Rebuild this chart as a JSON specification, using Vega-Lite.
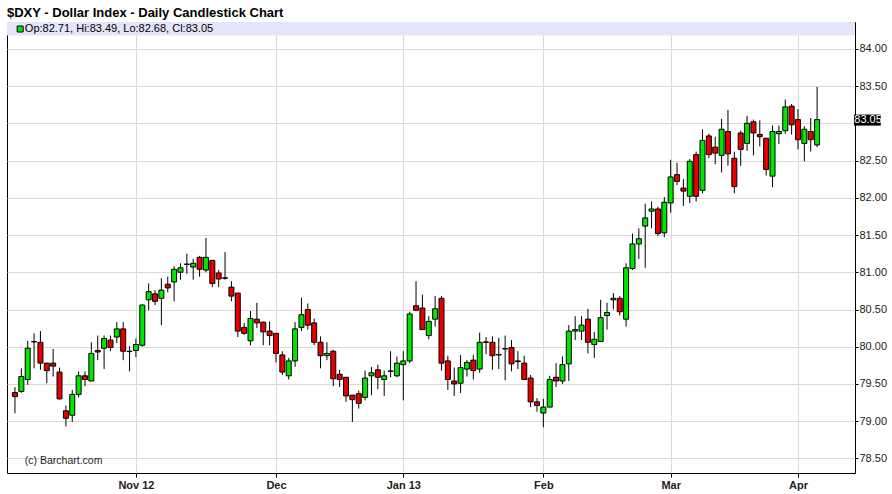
{
  "$schema": "https://vega.github.io/schema/vega-lite/v6.json",
  "width": 848,
  "height": 451,
  "autosize": "none",
  "padding": {"left": 7, "top": 22, "right": 37, "bottom": 21},
  "background": "#ffffff",
  "config": {
    "font": "Liberation Sans",
    "view": {"stroke": "#000000", "strokeWidth": 1}
  },
  "title": {
    "text": "$DXY - Dollar Index - Daily Candlestick Chart",
    "anchor": "start",
    "frame": "group",
    "fontSize": 13,
    "fontWeight": "bold",
    "color": "#000000",
    "offset": 5,
    "dy": 3
  },
  "datasets": {
    "candles": [
      {"day":0,"open":79.385,"high":79.457,"low":79.107,"close":79.331},
      {"day":1,"open":79.40,"high":79.71,"low":79.38,"close":79.60},
      {"day":2,"open":79.56,"high":80.08,"low":79.49,"close":79.98},
      {"day":3,"open":80.07,"high":80.18,"low":79.71,"close":80.065},
      {"day":4,"open":80.06,"high":80.21,"low":79.69,"close":79.78},
      {"day":5,"open":79.78,"high":79.78,"low":79.51,"close":79.68},
      {"day":6,"open":79.78,"high":79.97,"low":79.60,"close":79.74},
      {"day":7,"open":79.66,"high":79.72,"low":79.29,"close":79.30},
      {"day":8,"open":79.14,"high":79.21,"low":78.93,"close":79.04},
      {"day":9,"open":79.08,"high":79.42,"low":78.99,"close":79.36},
      {"day":10,"open":79.36,"high":79.67,"low":79.32,"close":79.61},
      {"day":11,"open":79.61,"high":79.67,"low":79.47,"close":79.56},
      {"day":12,"open":79.54,"high":80.06,"low":79.54,"close":79.91},
      {"day":13,"open":79.95,"high":80.15,"low":79.82,"close":79.93},
      {"day":14,"open":79.98,"high":80.15,"low":79.70,"close":80.11},
      {"day":15,"open":80.09,"high":80.15,"low":79.94,"close":79.99},
      {"day":16,"open":80.13,"high":80.33,"low":80.05,"close":80.24},
      {"day":17,"open":80.24,"high":80.33,"low":79.82,"close":79.94},
      {"day":18,"open":79.94,"high":80.01,"low":79.67,"close":79.935},
      {"day":19,"open":79.95,"high":80.11,"low":79.86,"close":80.03},
      {"day":20,"open":80.02,"high":80.57,"low":80.00,"close":80.56},
      {"day":21,"open":80.63,"high":80.85,"low":80.49,"close":80.74},
      {"day":22,"open":80.71,"high":80.76,"low":80.56,"close":80.61},
      {"day":23,"open":80.65,"high":80.92,"low":80.29,"close":80.76},
      {"day":24,"open":80.84,"high":80.94,"low":80.73,"close":80.79},
      {"day":25,"open":80.87,"high":81.08,"low":80.61,"close":81.04},
      {"day":26,"open":81.00,"high":81.12,"low":80.90,"close":81.06},
      {"day":27,"open":81.11,"high":81.25,"low":80.98,"close":81.105},
      {"day":28,"open":81.07,"high":81.18,"low":80.90,"close":81.12},
      {"day":29,"open":81.20,"high":81.22,"low":80.94,"close":81.04},
      {"day":30,"open":81.03,"high":81.46,"low":81.00,"close":81.20},
      {"day":31,"open":81.16,"high":81.16,"low":80.80,"close":80.85},
      {"day":32,"open":80.99,"high":81.03,"low":80.80,"close":80.91},
      {"day":33,"open":80.925,"high":81.27,"low":80.90,"close":80.92},
      {"day":34,"open":80.80,"high":80.88,"low":80.61,"close":80.68},
      {"day":35,"open":80.72,"high":80.72,"low":80.13,"close":80.21},
      {"day":36,"open":80.26,"high":80.32,"low":80.16,"close":80.18},
      {"day":37,"open":80.08,"high":80.48,"low":80.02,"close":80.38},
      {"day":38,"open":80.37,"high":80.59,"low":80.25,"close":80.32},
      {"day":39,"open":80.33,"high":80.34,"low":80.02,"close":80.20},
      {"day":40,"open":80.21,"high":80.34,"low":80.02,"close":80.15},
      {"day":41,"open":80.18,"high":80.18,"low":79.79,"close":79.91},
      {"day":42,"open":79.89,"high":79.94,"low":79.62,"close":79.66},
      {"day":43,"open":79.61,"high":79.85,"low":79.56,"close":79.81},
      {"day":44,"open":79.81,"high":80.33,"low":79.73,"close":80.24},
      {"day":45,"open":80.26,"high":80.66,"low":80.21,"close":80.43},
      {"day":46,"open":80.50,"high":80.58,"low":80.23,"close":80.29},
      {"day":47,"open":80.32,"high":80.38,"low":80.02,"close":80.06},
      {"day":48,"open":80.06,"high":80.14,"low":79.71,"close":79.88},
      {"day":49,"open":79.88,"high":80.06,"low":79.82,"close":79.91},
      {"day":50,"open":79.94,"high":79.96,"low":79.47,"close":79.57},
      {"day":51,"open":79.63,"high":79.69,"low":79.46,"close":79.56},
      {"day":52,"open":79.59,"high":79.59,"low":79.26,"close":79.34},
      {"day":53,"open":79.35,"high":79.35,"low":78.99,"close":79.29},
      {"day":54,"open":79.37,"high":79.41,"low":79.17,"close":79.24},
      {"day":55,"open":79.32,"high":79.68,"low":79.28,"close":79.58},
      {"day":56,"open":79.61,"high":79.73,"low":79.35,"close":79.65},
      {"day":57,"open":79.69,"high":79.76,"low":79.43,"close":79.59},
      {"day":58,"open":79.56,"high":79.68,"low":79.34,"close":79.61},
      {"day":59,"open":79.675,"high":79.94,"low":79.59,"close":79.67},
      {"day":60,"open":79.61,"high":79.87,"low":79.59,"close":79.78},
      {"day":61,"open":79.76,"high":79.94,"low":79.28,"close":79.81},
      {"day":62,"open":79.81,"high":80.47,"low":79.78,"close":80.44},
      {"day":63,"open":80.55,"high":80.88,"low":80.49,"close":80.49},
      {"day":64,"open":80.52,"high":80.70,"low":80.23,"close":80.23},
      {"day":65,"open":80.15,"high":80.41,"low":80.10,"close":80.34},
      {"day":66,"open":80.37,"high":80.68,"low":80.27,"close":80.51},
      {"day":67,"open":80.65,"high":80.68,"low":79.68,"close":79.78},
      {"day":68,"open":79.81,"high":79.88,"low":79.42,"close":79.56},
      {"day":69,"open":79.54,"high":79.72,"low":79.34,"close":79.50},
      {"day":70,"open":79.51,"high":79.89,"low":79.38,"close":79.72},
      {"day":71,"open":79.70,"high":79.82,"low":79.60,"close":79.79},
      {"day":72,"open":79.82,"high":79.89,"low":79.56,"close":79.68},
      {"day":73,"open":79.70,"high":80.19,"low":79.65,"close":80.06},
      {"day":74,"open":80.065,"high":80.13,"low":79.90,"close":80.06},
      {"day":75,"open":80.06,"high":80.14,"low":79.69,"close":79.88},
      {"day":76,"open":79.895,"high":80.12,"low":79.70,"close":79.89},
      {"day":77,"open":79.975,"high":80.15,"low":79.55,"close":79.97},
      {"day":78,"open":79.99,"high":80.09,"low":79.67,"close":79.77},
      {"day":79,"open":79.81,"high":79.94,"low":79.70,"close":79.80},
      {"day":80,"open":79.78,"high":79.88,"low":79.56,"close":79.56},
      {"day":81,"open":79.58,"high":79.62,"low":79.19,"close":79.26},
      {"day":82,"open":79.26,"high":79.31,"low":79.13,"close":79.21},
      {"day":83,"open":79.11,"high":79.30,"low":78.92,"close":79.19},
      {"day":84,"open":79.19,"high":79.61,"low":79.19,"close":79.56},
      {"day":85,"open":79.59,"high":79.78,"low":79.46,"close":79.54},
      {"day":86,"open":79.54,"high":79.87,"low":79.50,"close":79.76},
      {"day":87,"open":79.77,"high":80.29,"low":79.54,"close":80.21},
      {"day":88,"open":80.21,"high":80.41,"low":80.09,"close":80.23},
      {"day":89,"open":80.21,"high":80.41,"low":80.09,"close":80.29},
      {"day":90,"open":80.37,"high":80.51,"low":79.91,"close":80.06},
      {"day":91,"open":80.03,"high":80.20,"low":79.85,"close":80.10},
      {"day":92,"open":80.07,"high":80.63,"low":80.07,"close":80.39},
      {"day":93,"open":80.42,"high":80.59,"low":80.23,"close":80.46},
      {"day":94,"open":80.63,"high":80.72,"low":80.50,"close":80.65},
      {"day":95,"open":80.65,"high":80.68,"low":80.42,"close":80.47},
      {"day":96,"open":80.37,"high":81.12,"low":80.27,"close":81.06},
      {"day":97,"open":81.05,"high":81.52,"low":81.03,"close":81.38},
      {"day":98,"open":81.38,"high":81.59,"low":81.18,"close":81.45},
      {"day":99,"open":81.62,"high":81.92,"low":81.06,"close":81.73},
      {"day":100,"open":81.82,"high":81.95,"low":81.59,"close":81.85},
      {"day":101,"open":81.85,"high":81.88,"low":81.49,"close":81.52},
      {"day":102,"open":81.53,"high":82.01,"low":81.47,"close":81.94},
      {"day":103,"open":81.93,"high":82.51,"low":81.80,"close":82.28},
      {"day":104,"open":82.31,"high":82.47,"low":82.17,"close":82.22},
      {"day":105,"open":82.13,"high":82.25,"low":81.89,"close":82.09},
      {"day":106,"open":82.02,"high":82.52,"low":81.93,"close":82.49},
      {"day":107,"open":82.58,"high":82.62,"low":81.95,"close":82.02},
      {"day":108,"open":82.10,"high":82.92,"low":82.06,"close":82.77},
      {"day":109,"open":82.83,"high":82.86,"low":82.53,"close":82.58},
      {"day":110,"open":82.68,"high":82.82,"low":82.45,"close":82.60},
      {"day":111,"open":82.57,"high":83.06,"low":82.34,"close":82.92},
      {"day":112,"open":82.89,"high":83.18,"low":82.43,"close":82.59},
      {"day":113,"open":82.53,"high":82.62,"low":82.06,"close":82.15},
      {"day":114,"open":82.87,"high":82.90,"low":82.43,"close":82.65},
      {"day":115,"open":82.73,"high":83.10,"low":82.63,"close":83.00},
      {"day":116,"open":83.02,"high":83.05,"low":82.57,"close":82.87},
      {"day":117,"open":82.85,"high":83.04,"low":82.69,"close":82.82},
      {"day":118,"open":82.80,"high":82.80,"low":82.30,"close":82.38},
      {"day":119,"open":82.29,"high":82.97,"low":82.14,"close":82.89},
      {"day":120,"open":82.86,"high":82.97,"low":82.72,"close":82.89},
      {"day":121,"open":82.90,"high":83.32,"low":82.86,"close":83.22},
      {"day":122,"open":83.23,"high":83.26,"low":82.85,"close":82.98},
      {"day":123,"open":83.05,"high":83.19,"low":82.65,"close":82.78},
      {"day":124,"open":82.73,"high":82.96,"low":82.49,"close":82.92},
      {"day":125,"open":82.89,"high":83.07,"low":82.62,"close":82.78},
      {"day":126,"open":82.71,"high":83.49,"low":82.68,"close":83.05}
    ]
  },
  "layer": [
    {
      "data": {"name": "candles"},
      "mark": {"type": "rule", "color": "#000000", "strokeWidth": 1},
      "encoding": {
        "x": {
          "field": "day",
          "type": "quantitative",
          "scale": {"domain": [-0.466, 131.17], "nice": false, "zero": false},
          "axis": {
            "orient": "bottom",
            "title": null,
            "values": [19, 41, 61, 83, 103, 123],
            "labelExpr": "datum.value == 19 ? 'Nov 12' : datum.value == 41 ? 'Dec' : datum.value == 61 ? 'Jan 13' : datum.value == 83 ? 'Feb' : datum.value == 103 ? 'Mar' : 'Apr'",
            "grid": true,
            "gridColor": "#d9d9d9",
            "gridWidth": 1,
            "domain": false,
            "ticks": true,
            "tickColor": "#000000",
            "tickSize": 4,
            "labelFontSize": 11,
            "labelFontWeight": "bold",
            "labelColor": "#222222",
            "labelPadding": 2,
            "labelFlush": false
          }
        },
        "y": {
          "field": "low",
          "type": "quantitative",
          "scale": {"domain": [78.305, 84.36], "nice": false, "zero": false},
          "axis": {
            "orient": "right",
            "title": null,
            "values": [78.5, 79, 79.5, 80, 80.5, 81, 81.5, 82, 82.5, 83, 83.5, 84],
            "labelExpr": "datum.value == 83 ? '' : format(datum.value, '.2f')",
            "grid": true,
            "gridColor": "#d9d9d9",
            "gridWidth": 1,
            "domain": false,
            "tickColor": "#000000",
            "tickSize": 3,
            "labelFontSize": 11,
            "labelColor": "#222222",
            "labelPadding": 1
          }
        },
        "y2": {"field": "high"}
      }
    },
    {
      "data": {"name": "candles"},
      "mark": {"type": "bar", "size": 5, "stroke": "#000000", "strokeWidth": 1},
      "encoding": {
        "x": {"field": "day", "type": "quantitative"},
        "y": {"field": "open", "type": "quantitative"},
        "y2": {"field": "close"},
        "fill": {
          "condition": {"test": "datum.close > datum.open", "value": "#00e600"},
          "value": "#e60000"
        }
      }
    },
    {
      "data": {"values": [{}]},
      "mark": {"type": "rect", "fill": "#e4e4fa"},
      "encoding": {
        "y": {"datum": 84.36},
        "y2": {"datum": 84.18}
      }
    },
    {
      "data": {"values": [{}]},
      "mark": {"type": "point", "shape": "square", "size": 36, "filled": true, "fill": "#00e600", "stroke": "#000000", "strokeWidth": 1, "opacity": 1},
      "encoding": {
        "x": {"datum": 0.82},
        "y": {"datum": 84.266}
      }
    },
    {
      "data": {"values": [{"label": "Op:82.71, Hi:83.49, Lo:82.68, Cl:83.05"}]},
      "mark": {"type": "text", "align": "left", "baseline": "middle", "fontSize": 11, "color": "#000000"},
      "encoding": {
        "x": {"datum": 1.55},
        "y": {"datum": 84.262},
        "text": {"field": "label"}
      }
    },
    {
      "data": {"values": [{"label": "(c) Barchart.com"}]},
      "mark": {"type": "text", "align": "left", "baseline": "alphabetic", "fontSize": 10.5, "color": "#222222"},
      "encoding": {
        "x": {"datum": 1.55},
        "y": {"datum": 78.43},
        "text": {"field": "label"}
      }
    },
    {
      "data": {"values": [{}]},
      "mark": {"type": "rect", "fill": "#000000"},
      "encoding": {
        "x": {"datum": 131.8},
        "x2": {"datum": 136.0},
        "y": {"datum": 83.117},
        "y2": {"datum": 82.969}
      }
    },
    {
      "data": {"values": [{"label": "83.05"}]},
      "mark": {"type": "text", "align": "left", "baseline": "middle", "fontSize": 11, "color": "#ffffff"},
      "encoding": {
        "x": {"datum": 131.85},
        "y": {"datum": 83.043},
        "text": {"field": "label"}
      }
    }
  ]
}
